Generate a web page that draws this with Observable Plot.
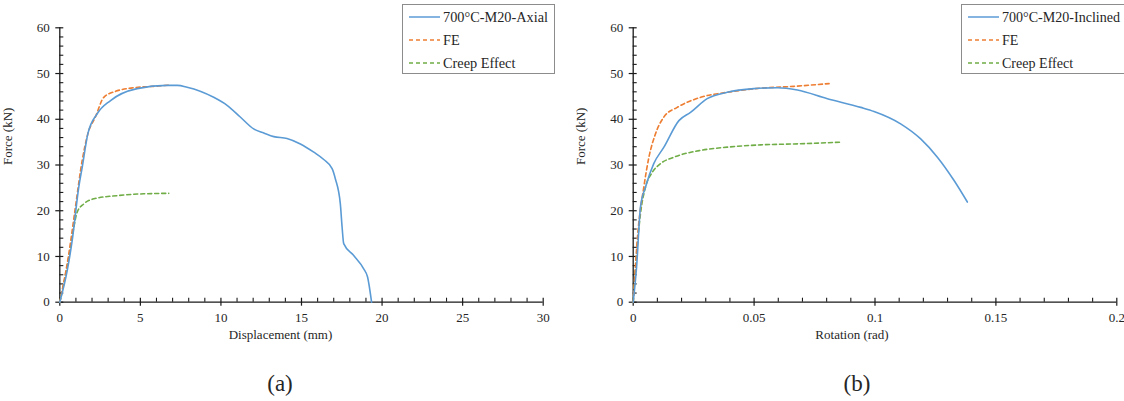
<!DOCTYPE html>
<html>
<head>
<meta charset="utf-8">
<script src="https://cdn.jsdelivr.net/npm/d3@7"></script>
<script src="https://cdn.jsdelivr.net/npm/@observablehq/plot@0.6"></script>
<style>
  html, body { margin: 0; padding: 0; background: #fff; overflow: hidden; }
  #wrap { position: relative; width: 1124px; height: 401px; font-family: "Liberation Serif"; color: #262626; }
  .panel { position: absolute; top: 0; }
  .caption { position: absolute; top: 370px; font-size: 23px; line-height: 28px; text-align: center; width: 80px; }
  .legend { position: absolute; top: 4px; height: 68px; border: 1px solid #8c8c8c; background: #fff; font-size: 13.5px; }
  .legend .row { position: absolute; left: 6px; height: 18px; display: flex; align-items: center; white-space: nowrap; }
  .legend svg { margin-right: 3px; flex: none; }
</style>
</head>
<body>
<div id="wrap"></div>
<script>
// ---------- data (a): displacement (mm) vs force (kN)
const axialDisp = [0, 0.46, 0.77, 1.18, 1.39, 1.74, 2.32, 3.15, 4.8, 6.66, 7.3, 7.9, 9.55, 10.4, 11.2, 12.03, 12.66, 13.28, 14.1, 14.93, 15.76, 16.38, 16.9, 17.1, 17.41, 17.52, 17.62, 18.24, 18.86, 19.1, 19.35];
const axialForce = [0, 6.9, 13.5, 25.2, 29.5, 36.8, 41.2, 44.1, 46.7, 47.4, 47.4, 47.0, 44.8, 43.0, 40.5, 37.9, 37.0, 36.2, 35.8, 34.6, 32.8, 31.2, 29.2, 27.0, 21.5, 16.4, 12.8, 10.2, 7.3, 5.5, 0];
const feADisp = [0, 0.56, 0.97, 1.39, 1.74, 2.21, 2.73, 3.46, 4.59, 5.83, 6.87];
const feAForce = [0, 10.6, 20.8, 31.0, 36.8, 40.5, 44.8, 46.1, 46.9, 47.2, 47.5];
const creepADisp = [0, 0.56, 0.87, 1.08, 1.49, 2.11, 3.56, 5.21, 6.76];
const creepAForce = [0, 9.8, 16.4, 19.7, 21.5, 22.6, 23.3, 23.7, 23.8];

// ---------- data (b): rotation (rad) vs force (kN)
const inclRot = [0, 0.0014, 0.003, 0.0051, 0.0085, 0.0127, 0.0189, 0.0237, 0.0306, 0.0389, 0.0499, 0.0596, 0.0679, 0.0803, 0.0941, 0.0996, 0.1106, 0.1189, 0.1258, 0.1327, 0.1382];
const inclForce = [0, 7.7, 20.8, 25.2, 30.3, 33.9, 39.7, 41.5, 44.5, 45.9, 46.7, 46.9, 46.4, 44.5, 42.6, 41.7, 39.0, 35.7, 31.7, 26.6, 21.9];
const feBRot = [0, 0.0019, 0.0044, 0.0065, 0.0092, 0.0127, 0.0182, 0.0279, 0.0389, 0.0527, 0.0665, 0.081];
const feBForce = [0, 15.0, 25.2, 31.7, 36.8, 40.5, 42.6, 44.8, 45.9, 46.8, 47.2, 47.8];
const creepBRot = [0, 0.001, 0.003, 0.0051, 0.0079, 0.0113, 0.0168, 0.0279, 0.0389, 0.0527, 0.0665, 0.0865];
const creepBForce = [0, 7.7, 19.3, 25.2, 28.4, 30.3, 31.7, 33.2, 33.9, 34.4, 34.6, 35.0];

// ---------- ticks
const forceTicks = [0, 10, 20, 30, 40, 50, 60];
const forceMinor = [2,4,6,8,12,14,16,18,22,24,26,28,32,34,36,38,42,44,46,48,52,54,56,58];
const dispTicks = [0, 5, 10, 15, 20, 25, 30];
const dispMinor = [1,2,3,4,6,7,8,9,11,12,13,14,16,17,18,19,21,22,23,24,26,27,28,29];
const rotTicks = [0, 0.05, 0.1, 0.15, 0.2];
const rotMinor = [0.01,0.02,0.03,0.04,0.06,0.07,0.08,0.09,0.11,0.12,0.13,0.14,0.16,0.17,0.18,0.19];

const seriesA = ["700°C-M20-Axial", "FE", "Creep Effect"];
const seriesB = ["700°C-M20-Inclined", "FE", "Creep Effect"];
const colors = ["#5B9BD5", "#ED7D31", "#70AD47"];

const zip = (xs, ys) => xs.map((x, i) => ({x, y: ys[i]}));
const SERIF = "Liberation Serif";

function panel({width, marginLeft, marginRight, xDomain, xTicks, xMinor, xLabel, xLabelDx, xFmt, series}) {
  const axisColor = "#1a1a1a";
  const t = {fill: "#262626", fontSize: 13, fontFamily: SERIF};
  return Plot.plot({
    width, height: 350,
    marginLeft, marginRight, marginTop: 27.3, marginBottom: 48.3,
    style: {fontFamily: SERIF, fontSize: "13px", color: "#262626", background: "transparent", overflow: "visible"},
    x: {domain: xDomain, axis: null},
    y: {domain: [0, 60], axis: null},
    marks: [
      // axis lines
      Plot.ruleY([0], {stroke: axisColor, strokeWidth: 1.3}),
      Plot.ruleX([0], {x: xDomain[0], y1: 0, y2: 60, stroke: axisColor, strokeWidth: 1.3}),
      // y ticks
      Plot.ruleY(forceTicks, {y: d => d, x1: xDomain[0], x2: xDomain[0], insetLeft: -4, insetRight: -4, stroke: axisColor, strokeWidth: 1.2}),
      Plot.ruleY(forceMinor, {y: d => d, x1: xDomain[0], x2: xDomain[0], insetLeft: 0, insetRight: -4, stroke: axisColor, strokeWidth: 1.1}),
      // x ticks
      Plot.ruleX(xTicks, {x: d => d, y1: 0, y2: 0, insetTop: -4, insetBottom: -4, stroke: axisColor, strokeWidth: 1.2}),
      Plot.ruleX(xMinor, {x: d => d, y1: 0, y2: 0, insetTop: -4, insetBottom: 0, stroke: axisColor, strokeWidth: 1.1}),
      // tick labels
      Plot.text(forceTicks, {y: d => d, x: xDomain[0], text: d => String(d), textAnchor: "end", dx: -10, ...t}),
      Plot.text(xTicks, {x: d => d, y: 0, text: xFmt, dy: 16, ...t}),
      // axis titles
      Plot.text([xLabel], {frameAnchor: "bottom", text: d => d, dy: 37, dx: xLabelDx, ...t}),
      Plot.text(["Force (kN)"], {frameAnchor: "left", text: d => d, rotate: -90, dx: -52, ...t}),
      // series
      Plot.line(series[2], {x: "x", y: "y", stroke: colors[2], strokeWidth: 1.6, strokeDasharray: "4,3", curve: "monotone-x"}),
      Plot.line(series[1], {x: "x", y: "y", stroke: colors[1], strokeWidth: 1.6, strokeDasharray: "4,3", curve: "monotone-x"}),
      Plot.line(series[0], {x: "x", y: "y", stroke: colors[0], strokeWidth: 1.6, curve: "monotone-x"})
    ]
  });
}

function legend(names, left, width, firstTextWidth) {
  const div = document.createElement("div");
  div.className = "legend";
  div.style.left = left + "px";
  div.style.width = width + "px";
  const spans = [];
  names.forEach((n, i) => {
    const row = document.createElement("div");
    row.className = "row";
    row.style.top = (3 + i * 23) + "px";
    const dash = i === 0 ? "" : 'stroke-dasharray="4,3"';
    row.innerHTML = `<svg width="31" height="4"><line x1="0" y1="2" x2="31" y2="2" stroke="${colors[i]}" stroke-width="1.5" ${dash}/></svg><span>${n}</span>`;
    div.appendChild(row);
    spans.push(row.querySelector("span"));
  });
  wrap.appendChild(div);
  // fit font size so the first entry has the width seen in the reference
  const w = spans[0].getBoundingClientRect().width;
  if (w > 0) div.style.fontSize = (13.5 * firstTextWidth / w).toFixed(2) + "px";
  return div;
}

const wrap = document.getElementById("wrap");

const pa = panel({
  width: 562, marginLeft: 59.3, marginRight: 19.3,
  xDomain: [0, 30], xTicks: dispTicks, xMinor: dispMinor,
  xLabel: "Displacement (mm)", xLabelDx: -21, xFmt: d => String(d),
  series: [zip(axialDisp, axialForce), zip(feADisp, feAForce), zip(creepADisp, creepAForce)]
});
const pb = panel({
  width: 562, marginLeft: 70.7, marginRight: 7.7,
  xDomain: [0, 0.2], xTicks: rotTicks, xMinor: rotMinor,
  xLabel: "Rotation (rad)", xLabelDx: -23, xFmt: d => String(d),
  series: [zip(inclRot, inclForce), zip(feBRot, feBForce), zip(creepBRot, creepBForce)]
});

const da = document.createElement("div"); da.className = "panel"; da.style.left = "0px"; da.appendChild(pa);
const db = document.createElement("div"); db.className = "panel"; db.style.left = "562px"; db.appendChild(pb);
wrap.appendChild(da); wrap.appendChild(db);

legend(seriesA, 402, 151, 105);
legend(seriesB, 961, 170, 118);

const ca = document.createElement("div"); ca.className = "caption"; ca.textContent = "(a)"; ca.style.left = (280 - 40) + "px";
const cb = document.createElement("div"); cb.className = "caption"; cb.textContent = "(b)"; cb.style.left = (857 - 40) + "px";
wrap.appendChild(ca); wrap.appendChild(cb);
</script>
</body>
</html>
